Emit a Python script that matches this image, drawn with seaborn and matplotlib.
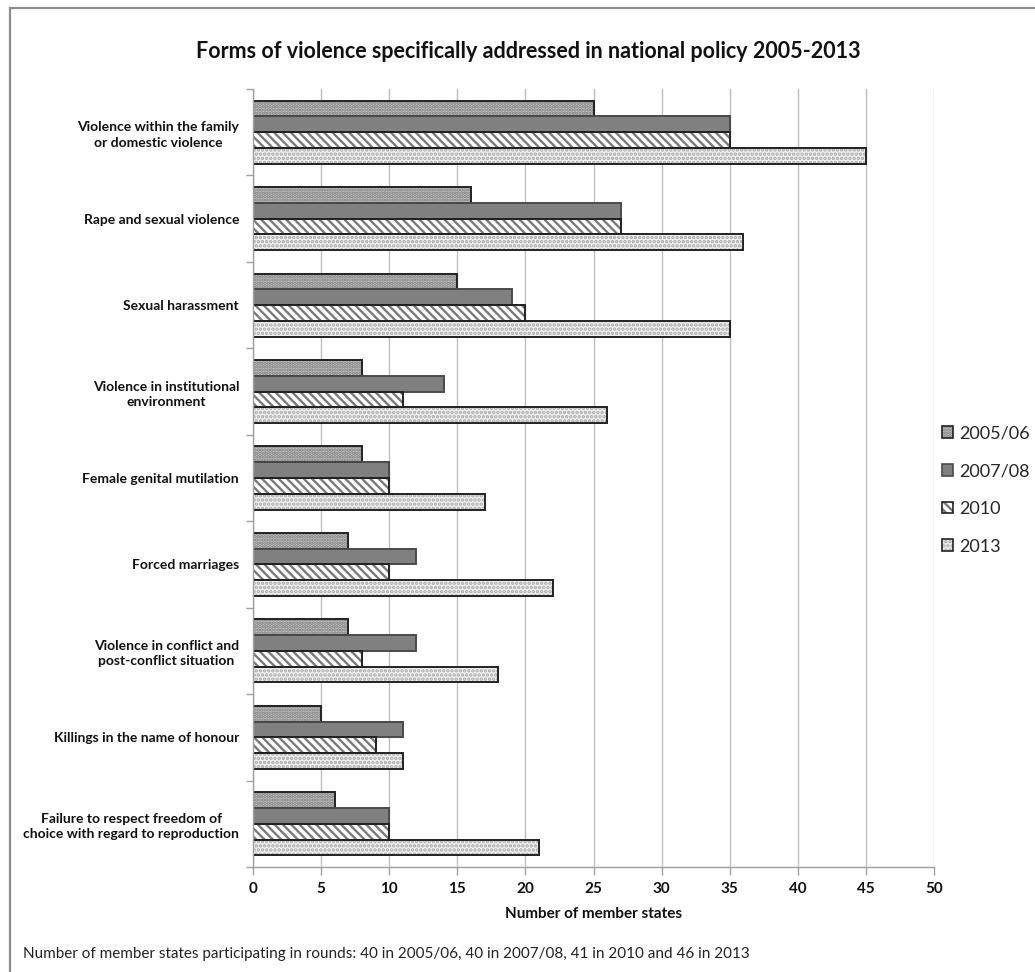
import matplotlib
matplotlib.use("Agg")
import matplotlib.pyplot as plt
from matplotlib.patches import Patch, Rectangle
from matplotlib.legend_handler import HandlerTuple
import pandas as pd
import seaborn as sns

categories = [
    "Violence within the family\nor domestic violence",
    "Rape and sexual violence",
    "Sexual harassment",
    "Violence in institutional\nenvironment",
    "Female genital mutilation",
    "Forced marriages",
    "Violence in conflict and\npost-conflict situation",
    "Killings in the name of honour",
    "Failure to respect freedom of\nchoice with regard to reproduction",
]
years = ["2005/06", "2007/08", "2010", "2013"]
v_2005 = [25, 16, 15, 8, 8, 7, 7, 5, 6]
v_2007 = [35, 27, 19, 14, 10, 12, 12, 11, 10]
v_2010 = [35, 27, 20, 11, 10, 10, 8, 9, 10]
v_2013 = [45, 36, 35, 26, 17, 22, 18, 11, 21]
x_ticks = [0, 5, 10, 15, 20, 25, 30, 35, 40, 45, 50]

title = "Forms of violence specifically addressed in national policy 2005-2013"
x_label = "Number of member states"
footnote = ("Number of member states participating in rounds: 40 in 2005/06, "
            "40 in 2007/08, 41 in 2010 and 46 in 2013")

rows = []
for yr, vals in zip(years, [v_2005, v_2007, v_2010, v_2013]):
    for cat, v in zip(categories, vals):
        rows.append({"category": cat, "year": yr, "value": v})
df = pd.DataFrame(rows)

sns.set_theme(style="white")
plt.rcParams["font.family"] = ["Lato", "DejaVu Sans"]
plt.rcParams["hatch.linewidth"] = 1.7

# fill style per series: face colour, hatch, hatch colour, outline colour
styles = {
    "2005/06": dict(face="#c4c4c4", hatch=".....", hcolor="#7c7c7c", edge="#222222"),
    "2007/08": dict(face="#808080", hatch=None, hcolor="#808080", edge="#4a4a4a"),
    "2010": dict(face="#ffffff", hatch="\\\\\\\\", hcolor="#7a7a7a", edge="#222222"),
    "2013": dict(face="#f0f0f0", hatch="....", hcolor="#a8a8a8", edge="#222222"),
}

W, H = 1035, 972
fig = plt.figure(figsize=(W / 100, H / 100), dpi=100)
ax = fig.add_axes([253 / W, 1 - 867 / H, (934 - 253) / W, (867 - 89) / H])

sns.barplot(data=df, y="category", x="value", hue="year", orient="h",
            order=categories, hue_order=years, width=0.73, gap=0,
            ax=ax, legend=False, saturation=1)

for yr, cont in zip(years, ax.containers):
    st = styles[yr]
    for p in cont.patches:
        p.set_facecolor(st["face"])
        p.set_edgecolor(st["hcolor"])
        p.set_linewidth(0)
        if st["hatch"]:
            p.set_hatch(st["hatch"])
        ax.add_patch(Rectangle(p.get_xy(), p.get_width(), p.get_height(),
                               fill=False, edgecolor=st["edge"], lw=1.4,
                               zorder=p.get_zorder() + 0.1))

ax.set_xlim(0, 50)
ax.set_xticks(x_ticks)
ax.set_xticklabels([str(t) for t in x_ticks], fontsize=11, fontweight="bold",
                   color="#111111")
ax.set_yticks(range(len(categories)))
ax.set_yticklabels(categories, fontsize=10, fontweight="bold",
                   multialignment="center", linespacing=1.35, color="#111111")
ax.set_yticks([i + 0.5 for i in range(-1, len(categories))], minor=True)
ax.tick_params(axis="y", which="major", length=0, pad=10)
ax.tick_params(axis="y", which="minor", length=5, width=1, color="#a0a0a0",
               direction="out", left=True)
ax.tick_params(axis="x", length=6, width=1, color="#a0a0a0", direction="out",
               bottom=True, pad=5)
ax.set_xlabel(x_label, fontsize=11, fontweight="bold", color="#111111",
              labelpad=8)
ax.set_ylabel("")
ax.grid(axis="x", color="#c0c0c0", lw=1)
ax.set_axisbelow(True)
for s in ["top", "right"]:
    ax.spines[s].set_visible(False)
for s in ["left", "bottom"]:
    ax.spines[s].set_color("#a0a0a0")
    ax.spines[s].set_linewidth(1)

handles = []
for yr in years:
    st = styles[yr]
    base = Patch(facecolor=st["face"], edgecolor=st["hcolor"], lw=0,
                 hatch=st["hatch"])
    outline = Patch(facecolor="none", edgecolor=st["edge"], lw=1.2)
    handles.append((base, outline))
fig.legend(handles, years, loc="center left",
           bbox_to_anchor=(942 / W, 1 - 490 / H), frameon=False,
           fontsize=13, handlelength=0.6, handleheight=0.6,
           handletextpad=0.35, labelspacing=1.2, borderpad=0,
           borderaxespad=0,
           handler_map={tuple: HandlerTuple(ndivide=1, pad=0)})

fig.text(528 / W, 1 - 52 / H, title, ha="center", va="center",
         fontsize=15.5, fontweight="bold", color="#111111")
fig.text(23 / W, 1 - 954 / H, footnote, ha="left", va="center",
         fontsize=11, color="#222222")

# chart frame
fig.add_artist(Rectangle((10 / W, -0.1), 1.2, 1 - 8 / H + 0.1,
                         transform=fig.transFigure, fill=False,
                         edgecolor="#8c8c8c", lw=1.6))

fig.savefig("out.png", dpi=100, facecolor="white")
